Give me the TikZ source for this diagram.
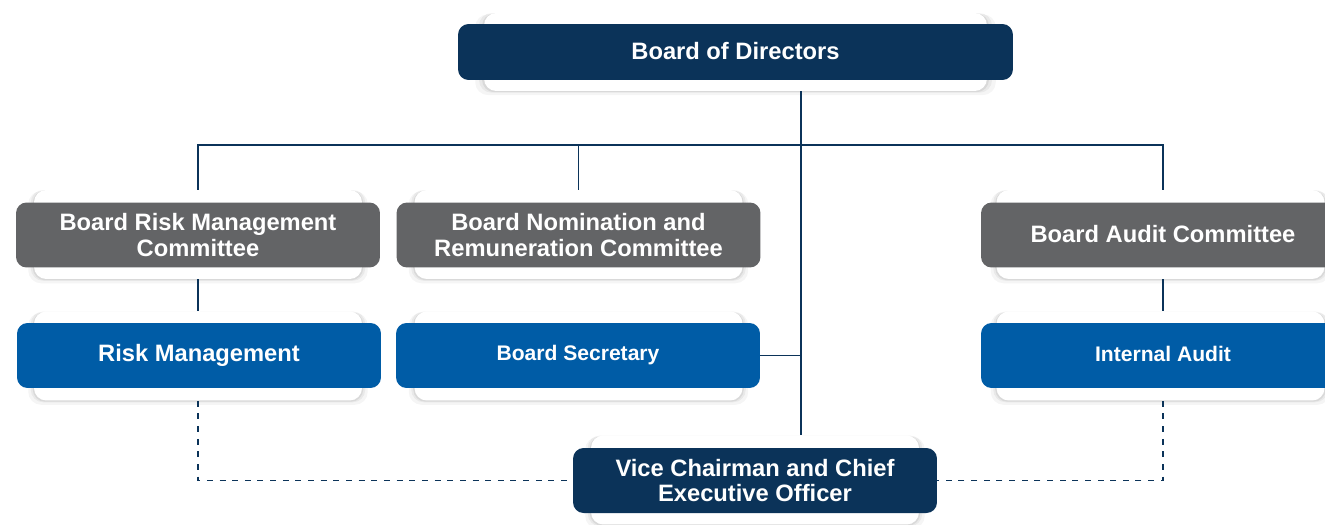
\documentclass[tikz,border=0pt]{standalone}
\usepackage{fontspec}
\setmainfont{Liberation Sans}
\usetikzlibrary{positioning,shadows}

\definecolor{navy}{RGB}{11,51,89}
\definecolor{slate}{RGB}{99,100,102}
\definecolor{royal}{RGB}{0,92,166}

\begin{document}
\begin{tikzpicture}[
        x=0.02cm, y=-0.02cm,
        card/.style={rectangle, fill=white, rounded corners=7pt, minimum width=6.56cm, minimum height=1.78cm,
            general shadow={fill=black, opacity=0.04, shadow yshift=-1.5pt, shadow scale=1.035},
            general shadow={fill=black, opacity=0.05, shadow yshift=-0.5pt, shadow scale=1.02},
            general shadow={fill=black, opacity=0.07, shadow yshift=-0.5pt, shadow scale=1.008}},
        box/.style={rectangle, rounded corners=6pt, minimum width=7.28cm, minimum height=1.3cm, text=white,
            font=\bfseries\fontsize{13.5}{14.5}\selectfont, align=center, inner sep=2pt},
        topbox/.style={box, fill=navy},
        cmte/.style={box, fill=slate},
        unit/.style={box, fill=royal},
        small/.style={font=\bfseries\fontsize{12}{13}\selectfont},
        link/.style={draw=navy, line width=0.6pt},
        dashedlink/.style={link, dash pattern=on 3.4pt off 3.8pt}
    ]
        \useasboundingbox (0,0) rectangle (1325,524);

        % Board of Directors
        \node[card, minimum width=10.06cm, minimum height=1.56cm] (bodcard) at (735.5,52) {};
        \node[topbox, minimum width=11.1cm, minimum height=1.12cm] (bod) at (735.5,52) {\raisebox{1.5pt}{Board of Directors}};

        % Committees
        \node[card] (brmccard) at (198,234.5) {};
        \node[cmte] (brmc) at (198,235) {Board Risk Management\\Committee};
        \node[card] (bnrccard) at (578.5,234.5) {};
        \node[cmte] (bnrc) at (578.5,235) {Board Nomination and\\Remuneration Committee};
        \node[card] (baccard) at (1160.5,234.5) {};
        \node[cmte] (bac) at (1163,235) {\raisebox{1.5pt}{Board Audit Committee}};

        % Units
        \node[card] (rmcard) at (198,356) {};
        \node[unit] (rm) at (199,355.5) {Risk Management};
        \node[card] (bscard) at (578.5,356) {};
        \node[unit, small] (bs) at (578,355.5) {Board Secretary};
        \node[card] (iacard) at (1160.5,356) {};
        \node[unit, small] (ia) at (1163,355.5) {\raisebox{1.5pt}{Internal Audit}};

        % Vice Chairman and CEO
        \node[card] (ceocard) at (755,480) {};
        \node[topbox] (ceo) at (755,480.5) {Vice Chairman and Chief\\Executive Officer};

        % Connections
        \coordinate (trunk) at (801,145);
        \draw[link] (bodcard.south -| trunk) -- (ceocard.north -| trunk);
        \draw[link] (brmccard.north) |- (trunk) -| (baccard.north -| ia);
        \draw[link] (bnrccard.north) -- (bnrccard.north |- trunk);
        \draw[link] (brmccard.south) -- (rmcard.north);
        \draw[link] (baccard.south -| ia) -- (iacard.north -| ia);
        \draw[link] (bs.east) -- (bs.east -| trunk);
        \draw[dashedlink] (rmcard.south) |- (ceo.west);
        \draw[dashedlink] (iacard.south -| ia) |- (ceo.east);

    \end{tikzpicture}
\end{document}
